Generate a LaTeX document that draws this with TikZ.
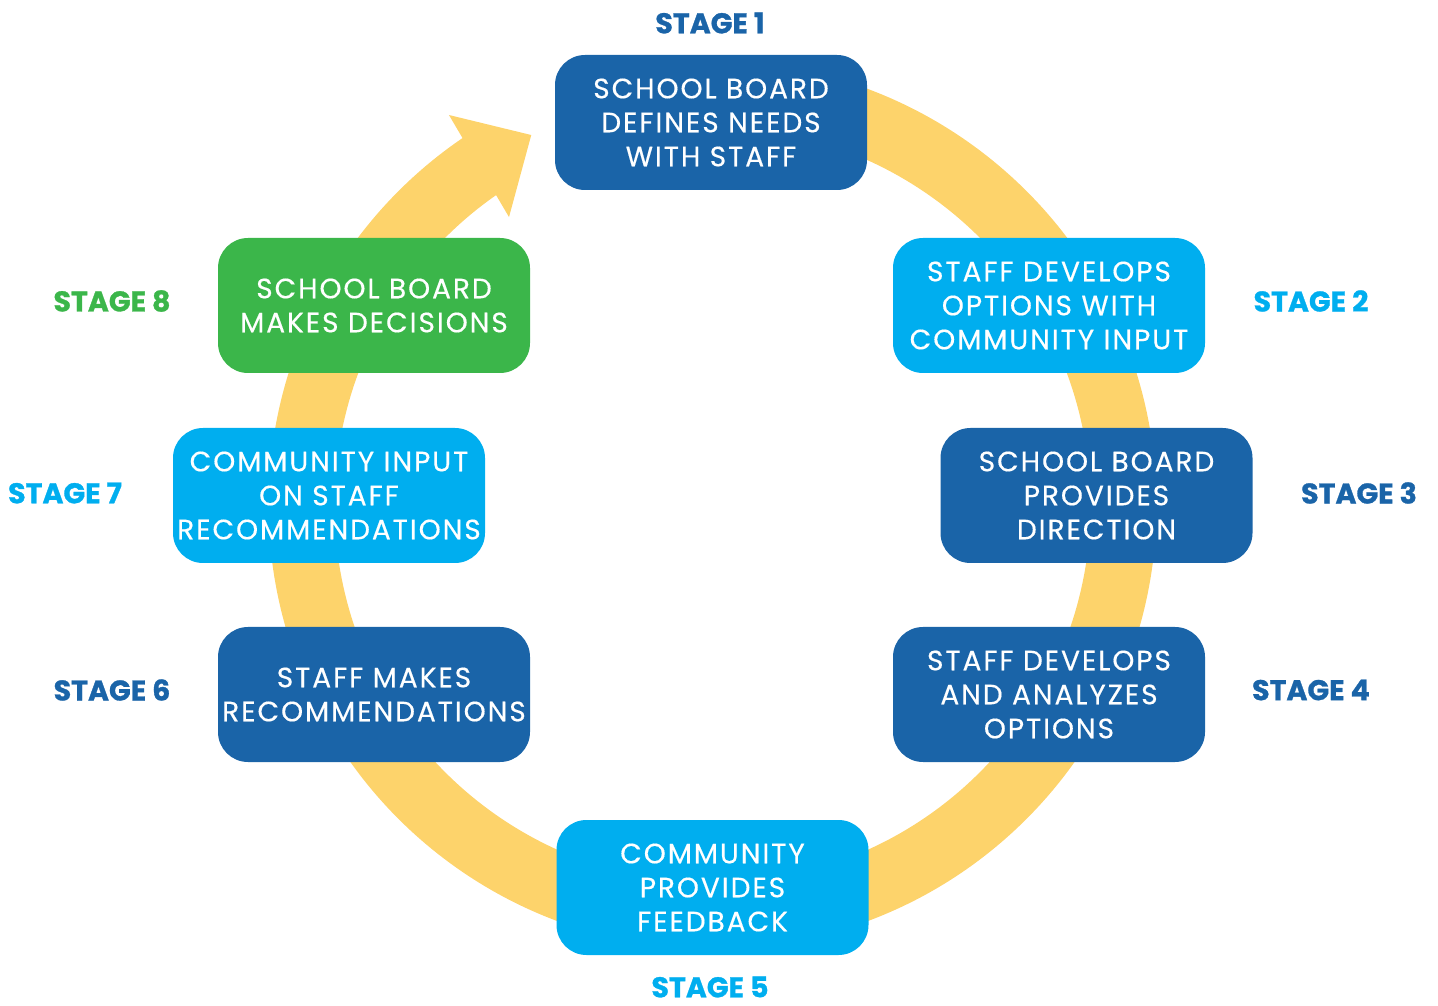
\documentclass[tikz,border=0pt]{standalone}
\usepackage{fontspec}
\setmainfont{Poppins}
\definecolor{ringyellow}{HTML}{FDD36B}
\definecolor{boardblue}{HTML}{1A64A8}
\definecolor{communityblue}{HTML}{00AEEF}
\definecolor{decisiongreen}{HTML}{3BB64A}
\tikzset{
	stagebox/.style={rounded corners=30pt, minimum width=312pt, minimum height=135pt,
		inner sep=0pt, align=center, text=white,
		font=\fontsize{28}{34}\selectfont\addfontfeatures{LetterSpace=7,FakeBold=0.4}},
	stagelabel/.style={inner sep=0pt,
		font=\fontsize{28.5}{34}\selectfont\bfseries\addfontfeatures{FakeBold=1}}
}

\begin{document}
\begin{tikzpicture}[x=1pt, y=1pt]
	% 1438 x 1005, y measured upwards
	\useasboundingbox (0,0) rectangle (1438,1005);
	\coordinate (hub) at (712.5,500);
	
	% yellow ring, clockwise, ends in an arrow head at stage 1
	\draw[ringyellow, line width=66pt] ([shift={(95:411)}]hub) arc[start angle=95, end angle=-236.5, radius=411];
	\fill[ringyellow] ([shift={(124.05:470.7)}]hub) -- ([shift={(116.1:412)}]hub) -- ([shift={(125.25:352.6)}]hub) -- cycle;
	
	% boxes
	\node[stagebox, fill=boardblue] (needs) at (711,882.5) {SCHOOL BOARD\\DEFINES NEEDS\\WITH STAFF};
	\node[stagebox, fill=communityblue] (options) at (1049,699.5) {STAFF DEVELOPS\\OPTIONS WITH\\COMMUNITY INPUT};
	\node[stagebox, fill=boardblue] (direction) at (1096.5,509.5) {SCHOOL BOARD\\PROVIDES\\DIRECTION};
	\node[stagebox, fill=boardblue] (analyze) at (1049,310.5) {STAFF DEVELOPS\\AND ANALYZES\\OPTIONS};
	\node[stagebox, fill=communityblue] (feedback) at (712.5,117.5) {COMMUNITY\\PROVIDES\\FEEDBACK};
	\node[stagebox, fill=boardblue] (recommend) at (374,310.5) {STAFF MAKES\\RECOMMENDATIONS};
	\node[stagebox, fill=communityblue] (input) at (329,509.5) {COMMUNITY INPUT\\ON STAFF\\RECOMMENDATIONS};
	\node[stagebox, fill=decisiongreen] (decide) at (374,699.5) {SCHOOL BOARD\\MAKES DECISIONS};
	
	% stage labels
	\node[stagelabel, text=boardblue] (s1) at (710,982) {STAGE 1};
	\node[stagelabel, text=communityblue] (s2) at (1311,704) {STAGE 2};
	\node[stagelabel, text=boardblue] (s3) at (1359,512) {STAGE 3};
	\node[stagelabel, text=boardblue] (s4) at (1311,315) {STAGE 4};
	\node[stagelabel, text=communityblue] (s5) at (710,18) {STAGE 5};
	\node[stagelabel, text=boardblue] (s6) at (112,315) {STAGE 6};
	\node[stagelabel, text=communityblue] (s7) at (65,512) {STAGE 7};
	\node[stagelabel, text=decisiongreen] (s8) at (112,704) {STAGE 8};
\end{tikzpicture}
\end{document}
